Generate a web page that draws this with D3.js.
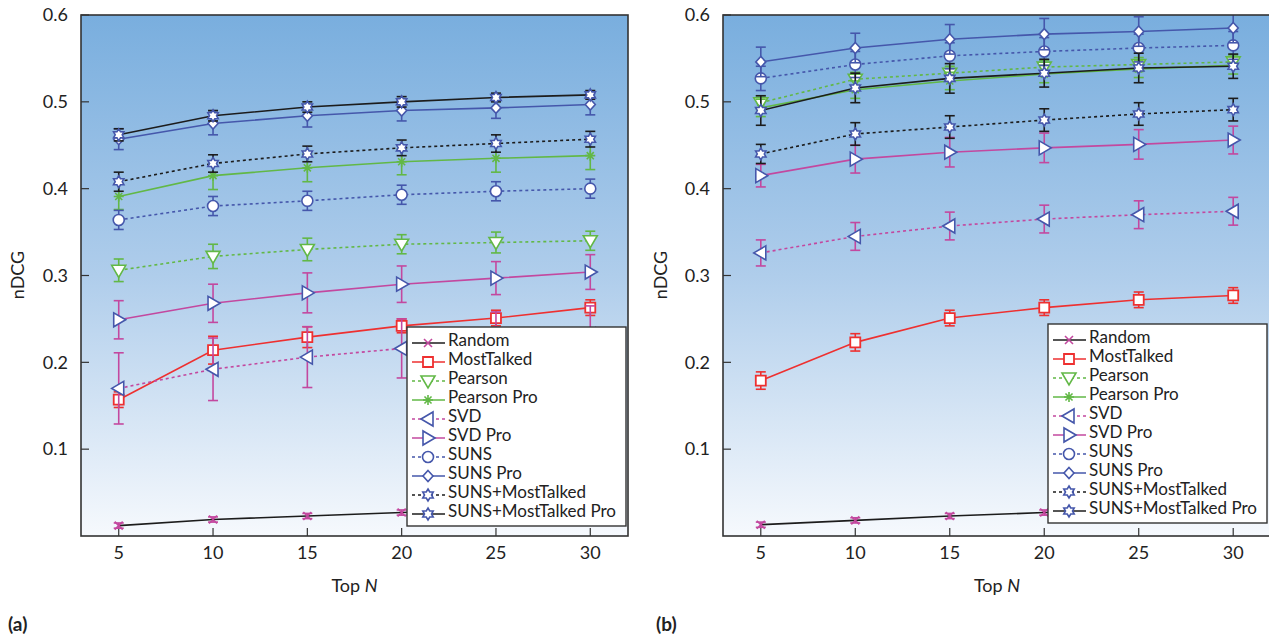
<!DOCTYPE html>
<html lang="en">
<head>
<meta charset="utf-8"/>
<title>nDCG vs Top N</title>
<script src="https://d3js.org/d3.v7.min.js"></script>
<style>
  body { margin: 0; background: #fff; }
  svg text { font-family: Lato, "Open Sans", sans-serif; fill: #222; }
</style>
</head>
<body>
<script>
// ---- data ----
var topN = [5, 10, 15, 20, 25, 30];
var xTicks = [5, 10, 15, 20, 25, 30];
var yTicks = [0.1, 0.2, 0.3, 0.4, 0.5, 0.6];
var seriesNames = ["Random", "MostTalked", "Pearson", "Pearson Pro", "SVD", "SVD Pro",
                   "SUNS", "SUNS Pro", "SUNS+MostTalked", "SUNS+MostTalked Pro"];

// panel (a) means, legend order
var meanA = [
  [0.012, 0.019, 0.023, 0.027, 0.030, 0.032],
  [0.157, 0.214, 0.229, 0.242, 0.251, 0.263],
  [0.306, 0.322, 0.330, 0.336, 0.338, 0.340],
  [0.391, 0.415, 0.424, 0.431, 0.435, 0.438],
  [0.170, 0.192, 0.206, 0.216, 0.225, 0.232],
  [0.249, 0.268, 0.280, 0.290, 0.297, 0.304],
  [0.364, 0.380, 0.386, 0.393, 0.397, 0.400],
  [0.457, 0.475, 0.484, 0.490, 0.493, 0.497],
  [0.408, 0.429, 0.440, 0.447, 0.452, 0.457],
  [0.462, 0.484, 0.494, 0.500, 0.505, 0.508]
];
var errA = [
  [0.003, 0.003, 0.003, 0.003, 0.003, 0.003],
  [0.009, 0.016, 0.012, 0.008, 0.009, 0.009],
  [0.013, 0.014, 0.013, 0.011, 0.012, 0.011],
  [0.015, 0.016, 0.016, 0.015, 0.016, 0.016],
  [0.041, 0.036, 0.035, 0.034, 0.033, 0.033],
  [0.022, 0.022, 0.023, 0.021, 0.019, 0.020],
  [0.011, 0.011, 0.011, 0.011, 0.011, 0.011],
  [0.012, 0.013, 0.013, 0.012, 0.012, 0.012],
  [0.011, 0.010, 0.009, 0.009, 0.010, 0.009],
  [0.007, 0.006, 0.006, 0.006, 0.005, 0.005]
];

// panel (b) means, legend order
var meanB = [
  [0.013, 0.018, 0.023, 0.027, 0.029, 0.031],
  [0.179, 0.223, 0.251, 0.263, 0.272, 0.277],
  [0.499, 0.526, 0.533, 0.540, 0.543, 0.546],
  [0.493, 0.514, 0.524, 0.532, 0.538, 0.542],
  [0.326, 0.345, 0.357, 0.365, 0.370, 0.374],
  [0.415, 0.434, 0.442, 0.447, 0.451, 0.456],
  [0.527, 0.543, 0.553, 0.558, 0.562, 0.565],
  [0.546, 0.562, 0.572, 0.578, 0.581, 0.585],
  [0.440, 0.463, 0.471, 0.479, 0.486, 0.491],
  [0.490, 0.516, 0.527, 0.533, 0.539, 0.541]
];
var errB = [
  [0.003, 0.003, 0.003, 0.003, 0.003, 0.003],
  [0.010, 0.010, 0.009, 0.009, 0.009, 0.009],
  [0.008, 0.008, 0.008, 0.008, 0.008, 0.008],
  [0.010, 0.010, 0.010, 0.010, 0.010, 0.010],
  [0.015, 0.016, 0.016, 0.016, 0.016, 0.016],
  [0.013, 0.016, 0.017, 0.017, 0.017, 0.016],
  [0.014, 0.015, 0.015, 0.016, 0.016, 0.016],
  [0.017, 0.017, 0.017, 0.018, 0.017, 0.017],
  [0.011, 0.013, 0.013, 0.013, 0.013, 0.013],
  [0.017, 0.017, 0.017, 0.016, 0.017, 0.014]
];

// ---- styles ----
var BLUE = "#4557ab", MAG = "#c3489f", RED = "#ee3030", GREEN = "#62b846", BLACK = "#1c1c1c";
var lineColor = [BLACK, RED, GREEN, GREEN, MAG, MAG, BLUE, BLUE, BLACK, BLACK];
var errColor  = [MAG, RED, GREEN, GREEN, MAG, MAG, BLUE, BLUE, BLACK, BLACK];
var dotted    = [false, false, true, false, true, false, true, false, true, false];
var markerKind = ["x", "square", "tdown", "aster", "tleft", "tright", "circle", "diamond", "star", "star"];
var markerStroke = [MAG, RED, GREEN, GREEN, BLUE, BLUE, BLUE, BLUE, BLUE, BLUE];

var W = 1269, H = 636;
var svg = d3.select("body").append("svg").attr("width", W).attr("height", H);

var defs = svg.append("defs");
var grad = defs.append("linearGradient").attr("id", "bg")
  .attr("x1", 0).attr("y1", 0).attr("x2", 0).attr("y2", 1);
grad.append("stop").attr("offset", "0%").attr("stop-color", "#79aede");
grad.append("stop").attr("offset", "50%").attr("stop-color", "#afcdeb");
grad.append("stop").attr("offset", "100%").attr("stop-color", "#f6f9fd");

// marker path builder
function markerPath(kind) {
  var p = d3.path();
  if (kind === "square") {
    p.rect(-5, -5, 10, 10);
  } else if (kind === "circle") {
    p.arc(0, 0, 5.5, 0, 2 * Math.PI);
  } else if (kind === "diamond") {
    p.moveTo(0, -5.5); p.lineTo(5, 0); p.lineTo(0, 5.5); p.lineTo(-5, 0); p.closePath();
  } else if (kind === "tdown") {
    p.moveTo(-7, -5); p.lineTo(7, -5); p.lineTo(0, 7); p.closePath();
  } else if (kind === "tleft") {
    p.moveTo(-7, 0); p.lineTo(5, -7); p.lineTo(5, 7); p.closePath();
  } else if (kind === "tright") {
    p.moveTo(7, 0); p.lineTo(-5, -7); p.lineTo(-5, 7); p.closePath();
  } else if (kind === "star") {
    for (var k = 0; k < 12; k++) {
      var r = k % 2 === 0 ? 6 : 3.5;
      var a = -Math.PI / 2 + k * Math.PI / 6;
      if (k === 0) p.moveTo(r * Math.cos(a), r * Math.sin(a));
      else p.lineTo(r * Math.cos(a), r * Math.sin(a));
    }
    p.closePath();
  } else if (kind === "aster") {
    for (var j = 0; j < 4; j++) {
      var b = j * Math.PI / 4;
      p.moveTo(-5 * Math.cos(b), -5 * Math.sin(b));
      p.lineTo(5 * Math.cos(b), 5 * Math.sin(b));
    }
  } else if (kind === "x") {
    p.moveTo(-4, -4); p.lineTo(4, 4); p.moveTo(4, -4); p.lineTo(-4, 4);
  }
  return p.toString();
}

function drawMarker(g, kind, color) {
  var open = (kind !== "x" && kind !== "aster");
  g.append("path")
    .attr("d", markerPath(kind))
    .attr("fill", open ? "#fff" : "none")
    .attr("stroke", color)
    .attr("stroke-width", kind === "square" ? 1.8 : 1.6);
}

function drawPanel(opt) {
  var x = d3.scaleLinear().domain([3, 32]).range([opt.left, opt.right]);
  var y = d3.scaleLinear().domain([0, 0.6]).range([536, 15]);
  var g = svg.append("g");

  // clip so plot content stays in the frame
  var clipId = "clip" + opt.tag;
  defs.append("clipPath").attr("id", clipId).append("rect")
    .attr("x", opt.left).attr("y", 15).attr("width", opt.right - opt.left).attr("height", 521);

  g.append("rect")
    .attr("x", opt.left).attr("y", 15)
    .attr("width", opt.right - opt.left).attr("height", 521)
    .attr("fill", "url(#bg)");

  // ticks (inside)
  g.selectAll(".yt").data(yTicks).enter().append("line")
    .attr("x1", opt.left).attr("x2", opt.left + 8)
    .attr("y1", function(d) { return y(d); }).attr("y2", function(d) { return y(d); })
    .attr("stroke", "#333").attr("stroke-width", 1.2);
  g.selectAll(".xt").data(xTicks).enter().append("line")
    .attr("x1", function(d) { return x(d); }).attr("x2", function(d) { return x(d); })
    .attr("y1", 536).attr("y2", 528)
    .attr("stroke", "#333").attr("stroke-width", 1.2);

  // tick labels
  g.selectAll(".yl").data(yTicks).enter().append("text")
    .attr("x", opt.left - 13).attr("y", function(d) { return y(d); })
    .attr("dy", "0.35em").attr("text-anchor", "end")
    .style("font-size", "18px")
    .text(function(d) { return d3.format(".1f")(d); });
  g.selectAll(".xl").data(xTicks).enter().append("text")
    .attr("x", function(d) { return x(d); }).attr("y", 553)
    .attr("dy", "0.35em").attr("text-anchor", "middle")
    .style("font-size", "18px")
    .text(function(d) { return d; });

  // axis titles
  g.append("text")
    .attr("transform", "translate(" + opt.ylabX + ",275) rotate(-90)")
    .attr("text-anchor", "middle").attr("dy", "0.35em")
    .style("font-size", "18px").text("nDCG");
  var xt = g.append("text")
    .attr("x", (opt.left + opt.right) / 2).attr("y", 586)
    .attr("dy", "0.35em").attr("text-anchor", "middle")
    .style("font-size", "18px");
  xt.append("tspan").text("Top ");
  xt.append("tspan").style("font-style", "italic").text("N");

  g.append("text")
    .attr("x", opt.tagX).attr("y", 624).attr("dy", "0.35em")
    .style("font-size", "19px").style("font-weight", "bold")
    .text("(" + opt.tag + ")");

  var plot = g.append("g").attr("clip-path", "url(#" + clipId + ")");
  var line = d3.line()
    .x(function(d) { return x(d[0]); })
    .y(function(d) { return y(d[1]); });

  seriesNames.forEach(function(name, i) {
    var pts = topN.map(function(n, k) { return [n, opt.mean[i][k], opt.err[i][k]]; });
    var s = plot.append("g");
    // error bars
    pts.forEach(function(d) {
      var cx = x(d[0]), y0 = y(d[1] - d[2]), y1 = y(d[1] + d[2]);
      var eb = s.append("g").attr("stroke", errColor[i]).attr("stroke-width", 1.6);
      eb.append("line").attr("x1", cx).attr("x2", cx).attr("y1", y0).attr("y2", y1);
      eb.append("line").attr("x1", cx - 5).attr("x2", cx + 5).attr("y1", y0).attr("y2", y0);
      eb.append("line").attr("x1", cx - 5).attr("x2", cx + 5).attr("y1", y1).attr("y2", y1);
    });
    s.append("path")
      .datum(pts)
      .attr("d", line)
      .attr("fill", "none")
      .attr("stroke", lineColor[i])
      .attr("stroke-width", 1.6)
      .attr("stroke-dasharray", dotted[i] ? "3,3" : null);
    pts.forEach(function(d) {
      var mg = s.append("g").attr("transform", "translate(" + x(d[0]) + "," + y(d[1]) + ")");
      drawMarker(mg, markerKind[i], markerStroke[i]);
    });
  });

  // frame
  g.append("rect")
    .attr("x", opt.left).attr("y", 15)
    .attr("width", opt.right - opt.left).attr("height", 521)
    .attr("fill", "none").attr("stroke", "#333").attr("stroke-width", 1.6);

  // legend
  var lg = g.append("g");
  lg.append("rect")
    .attr("x", opt.legX).attr("y", opt.legY)
    .attr("width", opt.legW).attr("height", 199)
    .attr("fill", "#fff").attr("stroke", "#333").attr("stroke-width", 1.4);
  seriesNames.forEach(function(name, i) {
    var ry = opt.legY + 16 + i * 19;
    var row = lg.append("g");
    row.append("line")
      .attr("x1", opt.legX + 5).attr("x2", opt.legX + 38)
      .attr("y1", ry).attr("y2", ry)
      .attr("stroke", lineColor[i]).attr("stroke-width", 1.6)
      .attr("stroke-dasharray", dotted[i] ? "3,3" : null);
    var mg = row.append("g").attr("transform", "translate(" + (opt.legX + 21) + "," + ry + ")");
    drawMarker(mg, markerKind[i], markerStroke[i]);
    row.append("text")
      .attr("x", opt.legX + 41).attr("y", ry - 3)
      .attr("dy", "0.35em")
      .style("font-size", "17px")
      .text(name);
  });
}

drawPanel({ tag: "a", left: 81, right: 628, mean: meanA, err: errA,
            ylabX: 18, tagX: 8, legX: 407, legY: 327, legW: 219 });
drawPanel({ tag: "b", left: 723, right: 1271, mean: meanB, err: errB,
            ylabX: 661, tagX: 656, legX: 1048, legY: 324, legW: 219 });
</script>
</body>
</html>
